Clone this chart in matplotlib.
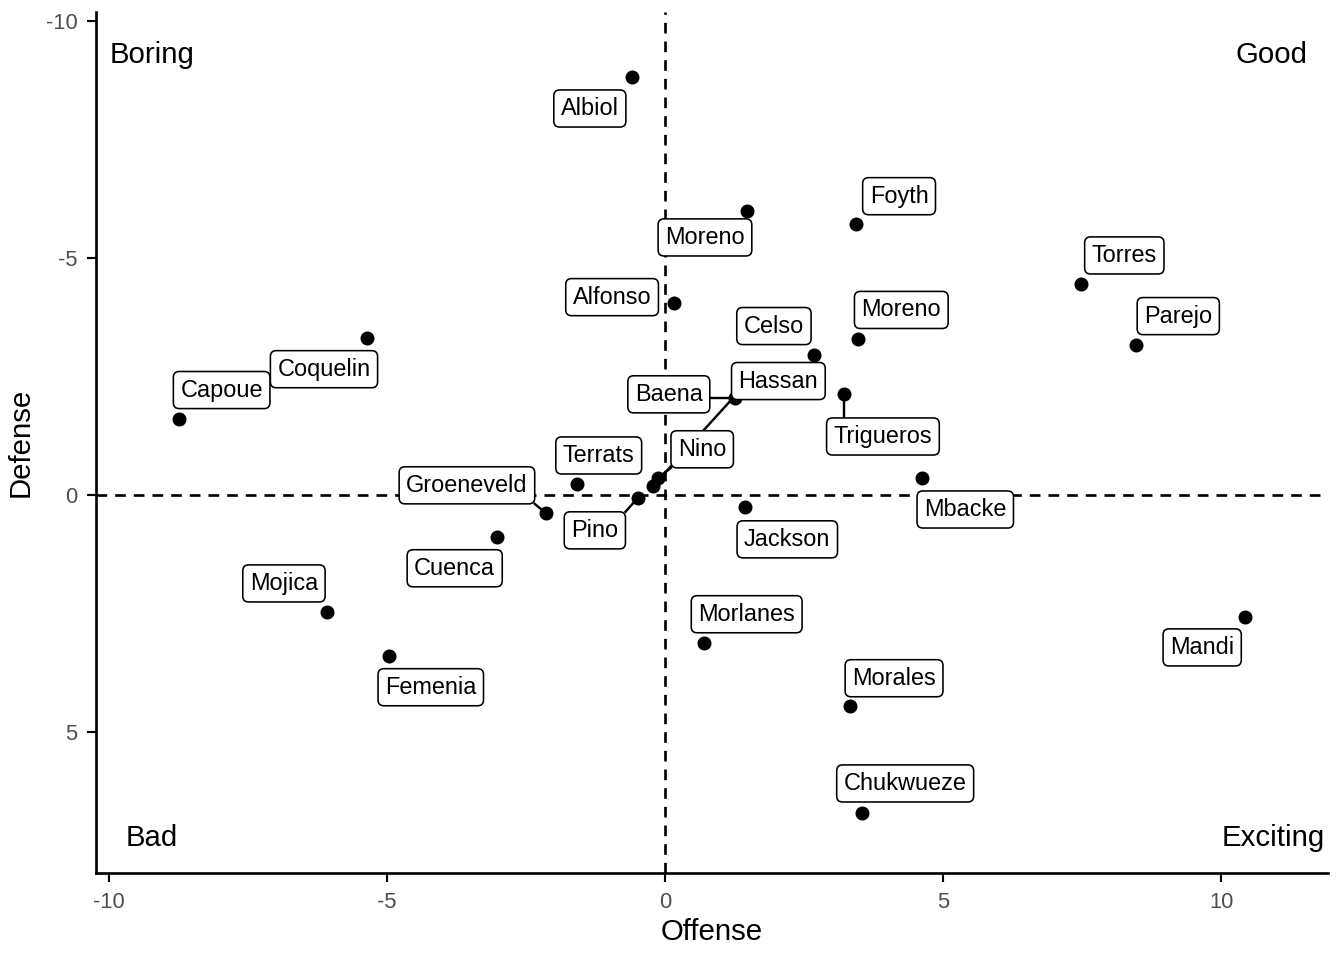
import matplotlib
matplotlib.use("Agg")
import matplotlib.pyplot as plt
import numpy as np

plt.rcParams['font.family'] = ['Liberation Sans', 'DejaVu Sans']
plt.rcParams['axes.unicode_minus'] = False

# players and their offense / defense scores
players = ["Albiol", "Moreno", "Foyth", "Torres", "Alfonso", "Moreno", "Parejo",
           "Coquelin", "Celso", "Capoue", "Baena", "Hassan", "Trigueros", "Nino",
           "Terrats", "Groeneveld", "Pino", "Mbacke", "Jackson", "Cuenca",
           "Mojica", "Femenia", "Morlanes", "Mandi", "Morales", "Chukwueze"]
offense = [-0.59, 1.47, 3.44, 7.48, 0.16, 3.47, 8.47,
           -5.36, 2.68, -8.74, 1.26, -0.22, 3.22, -0.13,
           -1.58, -2.14, -0.49, 4.62, 1.44, -3.02,
           -6.08, -4.96, 0.70, 10.43, 3.33, 3.54]
defense = [-8.82, -5.99, -5.72, -4.45, -4.05, -3.29, -3.16,
           -3.31, -2.95, -1.60, -2.05, -0.19, -2.13, -0.36,
           -0.23, 0.38, 0.06, -0.36, 0.25, 0.89,
           2.47, 3.40, 3.12, 2.57, 4.45, 6.71]

quadrants = ["Boring", "Good", "Bad", "Exciting"]

# label placement (repel result), as offsets from each point
label_dx = [-0.76, -0.75, 0.77, 0.78, -1.11, 0.78, 0.76,
            -0.77, -0.72, 0.77, -1.19, 2.26, 0.70, 0.80,
            0.39, -1.42, -0.77, 0.78, 0.76, -0.76,
            -0.77, 0.75, 0.77, -0.77, 0.79, 0.78]
label_dy = [0.66, 0.55, -0.59, -0.61, -0.13, -0.62, -0.62,
            0.65, -0.62, -0.62, -0.08, -2.22, 0.89, -0.61,
            -0.61, -0.59, 0.68, 0.66, 0.68, 0.65,
            -0.61, 0.65, -0.61, 0.64, -0.59, -0.63]
with_segment = {"Baena", "Hassan", "Trigueros", "Nino", "Groeneveld", "Pino"}

quad_pos = [(-9.98, -9.28, "left"), (11.56, -9.28, "right"),
            (-9.23, 7.24, "center"), (11.87, 7.24, "right")]

fig = plt.figure(figsize=(7, 5), dpi=192)
ax = fig.add_axes([0.0714, 0.0906, 0.9166, 0.8966])

ax.axvline(0, color="black", ls=(0, (4, 3)), lw=1.0, zorder=1)
ax.axhline(0, color="black", ls=(0, (4, 3)), lw=1.0, zorder=1)
ax.scatter(offense, defense, s=18, color="black", zorder=4)

texts = []
for i, name in enumerate(players):
    t = ax.text(offense[i] + label_dx[i], defense[i] + label_dy[i], name,
                ha="center", va="center", fontsize=8.8, zorder=5,
                bbox=dict(boxstyle="round,pad=0.3,rounding_size=0.25",
                          fc="white", ec="black", lw=0.6))
    texts.append(t)

for (qx, qy, ha), q in zip(quad_pos, quadrants):
    ax.text(qx, qy, q, ha=ha, va="center", fontsize=11, color="black")

ax.set_xlim(-10.23, 11.92)
ax.set_ylim(7.97, -10.19)
ax.set_xticks([-10, -5, 0, 5, 10])
ax.set_yticks([-10, -5, 0, 5])
ax.set_xlabel("Offense", fontsize=11, labelpad=2)
ax.set_ylabel("Defense", fontsize=11, labelpad=4)
ax.tick_params(labelsize=8.2, labelcolor="#4D4D4D", length=3.5, width=0.8, color="black")
for s in ["top", "right"]:
    ax.spines[s].set_visible(False)
for s in ["left", "bottom"]:
    ax.spines[s].set_linewidth(1.0)

# segments from point to the nearest edge of its label
fig.canvas.draw()
renderer = fig.canvas.get_renderer()
inv = ax.transData.inverted()
for i, t in enumerate(texts):
    if players[i] not in with_segment:
        continue
    bb = t.get_bbox_patch().get_window_extent(renderer)
    px, py = ax.transData.transform((offense[i], defense[i]))
    cx = np.clip(px, bb.x0, bb.x1)
    cy = np.clip(py, bb.y0, bb.y1)
    (x0, y0), (x1, y1) = inv.transform([(px, py), (cx, cy)])
    ax.plot([x0, x1], [y0, y1], color="black", lw=0.9, zorder=3)

fig.savefig("out.png", dpi=192)
